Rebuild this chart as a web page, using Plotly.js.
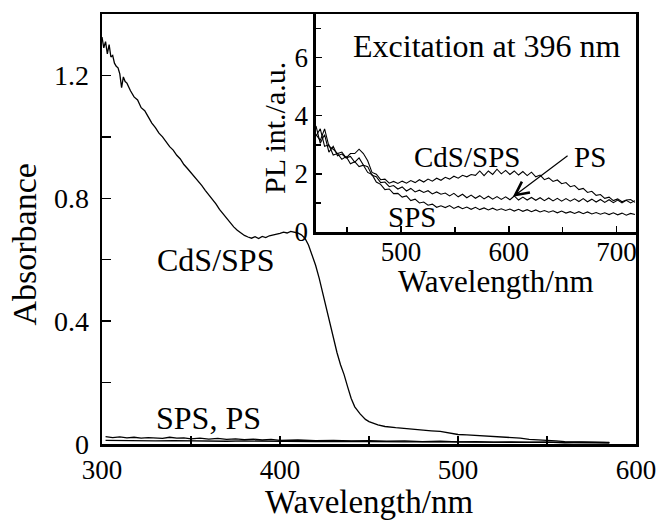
<!DOCTYPE html>
<html>
<head>
<meta charset="utf-8">
<script src="https://cdn.plot.ly/plotly-3.0.1.min.js"></script>
<style>html,body{margin:0;padding:0;background:#fff;}#chart{width:657px;height:521px;}</style>
</head>
<body>
<div id="chart"></div>
<script>
// Main panel: absorbance spectra
const cdsAbsX = [
300,301,302,303,304,305,306,307,308,309,
310,311,312,313,314,315,316,318,320,322,
324,326,328,330,332,334,336,338,340,342,
344,346,348,350,352,354,356,358,360,362,
364,366,368,370,372,374,376,378,380,382,
384,386,388,390,392,394,396,398,400,402,
404,406,408,410,412,414,416,418,420,422,
424,426,428,430,432,434,436,438,440,442,
445,448,450,455,459,465,470,475,480,485,
490,495,500,505,510,515,520,525,530,535,
540,545,550,555,560,565,570,575,580,585];
const cdsAbsY = [
1.325,1.29,1.31,1.27,1.30,1.26,1.265,1.24,1.23,1.225,
1.205,1.16,1.195,1.18,1.175,1.16,1.15,1.13,1.12,1.095,
1.085,1.065,1.045,1.03,1.012,1.0,0.985,0.968,0.957,0.94,
0.928,0.91,0.897,0.884,0.868,0.858,0.842,0.826,0.812,0.795,
0.782,0.764,0.75,0.735,0.72,0.707,0.696,0.687,0.679,0.674,
0.67,0.675,0.669,0.676,0.672,0.678,0.68,0.684,0.686,0.69,
0.687,0.692,0.689,0.687,0.681,0.67,0.648,0.618,0.582,0.54,
0.492,0.44,0.39,0.345,0.298,0.258,0.226,0.186,0.148,0.121,
0.098,0.08,0.073,0.062,0.057,0.053,0.05,0.048,0.046,0.043,
0.041,0.036,0.031,0.03,0.028,0.026,0.025,0.024,0.021,0.019,
0.015,0.014,0.012,0.01,0.008,0.007,0.006,0.006,0.005,0.005];

const spsAbsX = [302,306,310,314,318,322,326,330,334,338,342,346,350,
355,360,365,370,375,380,385,390,395,400,
410,420,430,440,450,460,470,480,490,500,510,520,530,540,550,560,570,580,585];
const spsAbsY = [0.024,0.021,0.023,0.02,0.022,0.019,0.021,0.02,0.018,0.022,0.019,0.02,0.017,
0.019,0.016,0.018,0.015,0.017,0.014,0.016,0.013,0.015,0.012,
0.013,0.011,0.012,0.01,0.011,0.009,0.01,0.008,0.009,0.007,0.008,0.006,0.007,0.005,0.006,0.004,0.005,0.004,0.004];

const psAbsX = [302,310,320,330,340,350,360,370,380,390,400,410,420,430,440,450,460,470,480,490,500,510,520,530,540,550,560,570,580,585];
const psAbsY = [0.012,0.011,0.012,0.01,0.011,0.01,0.011,0.009,0.01,0.009,0.01,0.009,0.008,0.009,0.008,0.009,0.008,0.007,0.008,0.007,0.006,0.007,0.006,0.005,0.006,0.005,0.004,0.005,0.004,0.004];

// Inset: PL spectra (excitation 396 nm)
const plX = [
421,425,429,433,437,441,445,449,453,457,
461,465,469,473,477,481,485,489,493,497,
501,505,509,513,517,521,525,529,533,537,
541,545,549,553,557,561,565,569,573,577,
581,585,589,593,597,601,605,609,613,617,
621,625,629,633,637,641,645,649,653,657,
661,665,669,673,677,681,685,689,693,697,
701,705,709,713,717];
const plSPS = [
3.3,3.55,2.95,3.0,2.65,2.7,2.5,2.6,2.35,2.42,
2.25,2.3,2.05,1.98,1.72,1.64,1.46,1.48,1.32,1.33,
1.2,1.24,1.08,1.13,1.0,1.03,0.92,0.96,0.85,0.9,
0.84,0.91,0.81,0.88,0.8,0.86,0.78,0.85,0.77,0.83,
0.76,0.82,0.75,0.8,0.74,0.79,0.72,0.78,0.71,0.77,
0.7,0.76,0.69,0.74,0.68,0.73,0.66,0.72,0.65,0.7,
0.64,0.7,0.63,0.69,0.62,0.67,0.61,0.66,0.6,0.66,
0.59,0.65,0.58,0.64,0.6];
const plPS = [
3.65,3.05,3.35,2.75,2.95,2.62,2.68,2.55,2.6,2.4,
2.55,2.3,2.25,1.95,1.9,1.7,1.72,1.56,1.6,1.48,
1.55,1.41,1.5,1.38,1.44,1.36,1.42,1.31,1.38,1.3,
1.34,1.24,1.33,1.21,1.3,1.18,1.27,1.16,1.25,1.14,
1.23,1.13,1.22,1.12,1.21,1.11,1.24,1.1,1.2,1.1,
1.19,1.09,1.18,1.08,1.17,1.07,1.16,1.06,1.15,1.06,
1.14,1.05,1.15,1.04,1.13,1.03,1.12,1.02,1.11,1.01,
1.1,1.0,1.09,1.0,1.08];
const plCdS = [
3.35,3.15,3.55,2.95,2.85,2.7,2.75,2.55,2.7,2.7,
2.85,2.7,2.45,2.05,1.99,1.8,1.82,1.68,1.74,1.67,
1.75,1.68,1.77,1.7,1.8,1.72,1.82,1.75,1.85,1.78,
1.88,1.82,1.92,1.85,1.95,1.9,1.98,1.95,2.1,1.94,
2.1,1.98,2.16,2.0,2.12,1.98,2.1,1.96,2.08,1.94,
2.06,1.9,1.96,1.8,1.86,1.74,1.79,1.66,1.7,1.56,
1.6,1.46,1.5,1.36,1.4,1.26,1.29,1.16,1.2,1.08,
1.14,1.04,1.1,1.12,1.02];

const FONT = 'Liberation Serif, Times New Roman, serif';
const lineStyle = {color:'black', width:1.3};
const plStyle = {color:'black', width:1.1};

const traces = [
  {x:cdsAbsX, y:cdsAbsY, type:'scatter', mode:'lines', line:lineStyle, name:'CdS/SPS', xaxis:'x', yaxis:'y'},
  {x:spsAbsX, y:spsAbsY, type:'scatter', mode:'lines', line:lineStyle, name:'SPS', xaxis:'x', yaxis:'y'},
  {x:psAbsX, y:psAbsY, type:'scatter', mode:'lines', line:lineStyle, name:'PS', xaxis:'x', yaxis:'y'},
  {x:plX, y:plCdS, type:'scatter', mode:'lines', line:plStyle, name:'CdS/SPS PL', xaxis:'x2', yaxis:'y2'},
  {x:plX, y:plPS, type:'scatter', mode:'lines', line:plStyle, name:'PS PL', xaxis:'x2', yaxis:'y2'},
  {x:plX, y:plSPS, type:'scatter', mode:'lines', line:plStyle, name:'SPS PL', xaxis:'x2', yaxis:'y2'}
];

const axisCommon = {
  showline:true, linewidth:2.5, linecolor:'black', mirror:true,
  showgrid:false, zeroline:false, ticks:'inside', tickcolor:'black', tickwidth:1.5,
};

const layout = {
  width:657, height:521,
  margin:{l:102, r:21, t:14, b:77},
  paper_bgcolor:'white', plot_bgcolor:'white',
  font:{family:FONT, color:'black'},
  showlegend:false,
  xaxis:Object.assign({}, axisCommon, {
    domain:[0,1], anchor:'y', range:[300,600], tick0:300, dtick:100, ticklen:8,
    tickfont:{size:27, family:FONT}, ticklabelstandoff:0,
    minor:{dtick:50, ticks:'inside', ticklen:8, tickwidth:1.5, tickcolor:'black'}
  }),
  yaxis:Object.assign({}, axisCommon, {
    domain:[0,1], anchor:'x', range:[0,1.4], tick0:0, dtick:0.4, ticklen:9,
    tickfont:{size:28, family:FONT}, ticklabelstandoff:5,
    minor:{dtick:0.2, ticks:'inside', ticklen:9, tickwidth:1.5, tickcolor:'black'}
  }),
  xaxis2:Object.assign({}, axisCommon, {
    domain:[0.4007,1], anchor:'y2', range:[421,718], tick0:500, dtick:100, ticklen:6,
    tickfont:{size:27, family:FONT}, ticklabelstandoff:-6,
    minor:{dtick:50, ticks:'inside', ticklen:5, tickwidth:1.5, tickcolor:'black'}
  }),
  yaxis2:Object.assign({}, axisCommon, {
    domain:[0.493,1], anchor:'x2', range:[0,7.5], tick0:0, dtick:2, ticklen:6,
    tickfont:{size:27, family:FONT},
    minor:{dtick:1, ticks:'inside', ticklen:5, tickwidth:1.5, tickcolor:'black'}
  }),
  annotations:[
    // axis titles
    {xref:'paper', yref:'paper', x:0.5, y:-0.1349, xanchor:'center', yanchor:'middle', text:'Wavelength/nm', showarrow:false, font:{size:33, family:FONT}},
    {xref:'paper', yref:'paper', x:-0.1451, y:0.4628, xanchor:'center', yanchor:'middle', textangle:-90, text:'Absorbance', showarrow:false, font:{size:34, family:FONT}},
    {xref:'paper', yref:'paper', x:0.7378, y:0.378, xanchor:'center', yanchor:'middle', text:'Wavelength/nm', showarrow:false, font:{size:31, family:FONT}},
    {xref:'paper', yref:'paper', x:0.324, y:0.7349, xanchor:'center', yanchor:'middle', textangle:-90, text:'PL int./a.u.', showarrow:false, font:{size:30, family:FONT}},
    // curve labels
    {xref:'x', yref:'y', x:364, y:0.60, text:'CdS/SPS', showarrow:false, font:{size:32, family:FONT}},
    {xref:'x', yref:'y', x:360, y:0.086, text:'SPS, PS', showarrow:false, font:{size:32, family:FONT}},
    {xref:'x2', yref:'y2', x:580, y:6.41, text:'Excitation at 396 nm', showarrow:false, font:{size:32, family:FONT}},
    {xref:'x2', yref:'y2', x:561, y:2.57, text:'CdS/SPS', showarrow:false, font:{size:29, family:FONT}},
    {xref:'x2', yref:'y2', x:675, y:2.57, text:'PS', showarrow:false, font:{size:29, family:FONT}},
    {xref:'x2', yref:'y2', x:510, y:0.52, text:'SPS', showarrow:false, font:{size:29, family:FONT}},
    {xref:'x2', yref:'y2', axref:'x2', ayref:'y2', x:603.7, y:1.21, ax:655.9, ay:2.66, text:'', showarrow:true,
     arrowhead:5, arrowsize:2.2, arrowwidth:1.2, arrowcolor:'black', standoff:0}
  ]
};

Plotly.newPlot('chart', traces, layout, {displayModeBar:false, staticPlot:true});
</script>
</body>
</html>
